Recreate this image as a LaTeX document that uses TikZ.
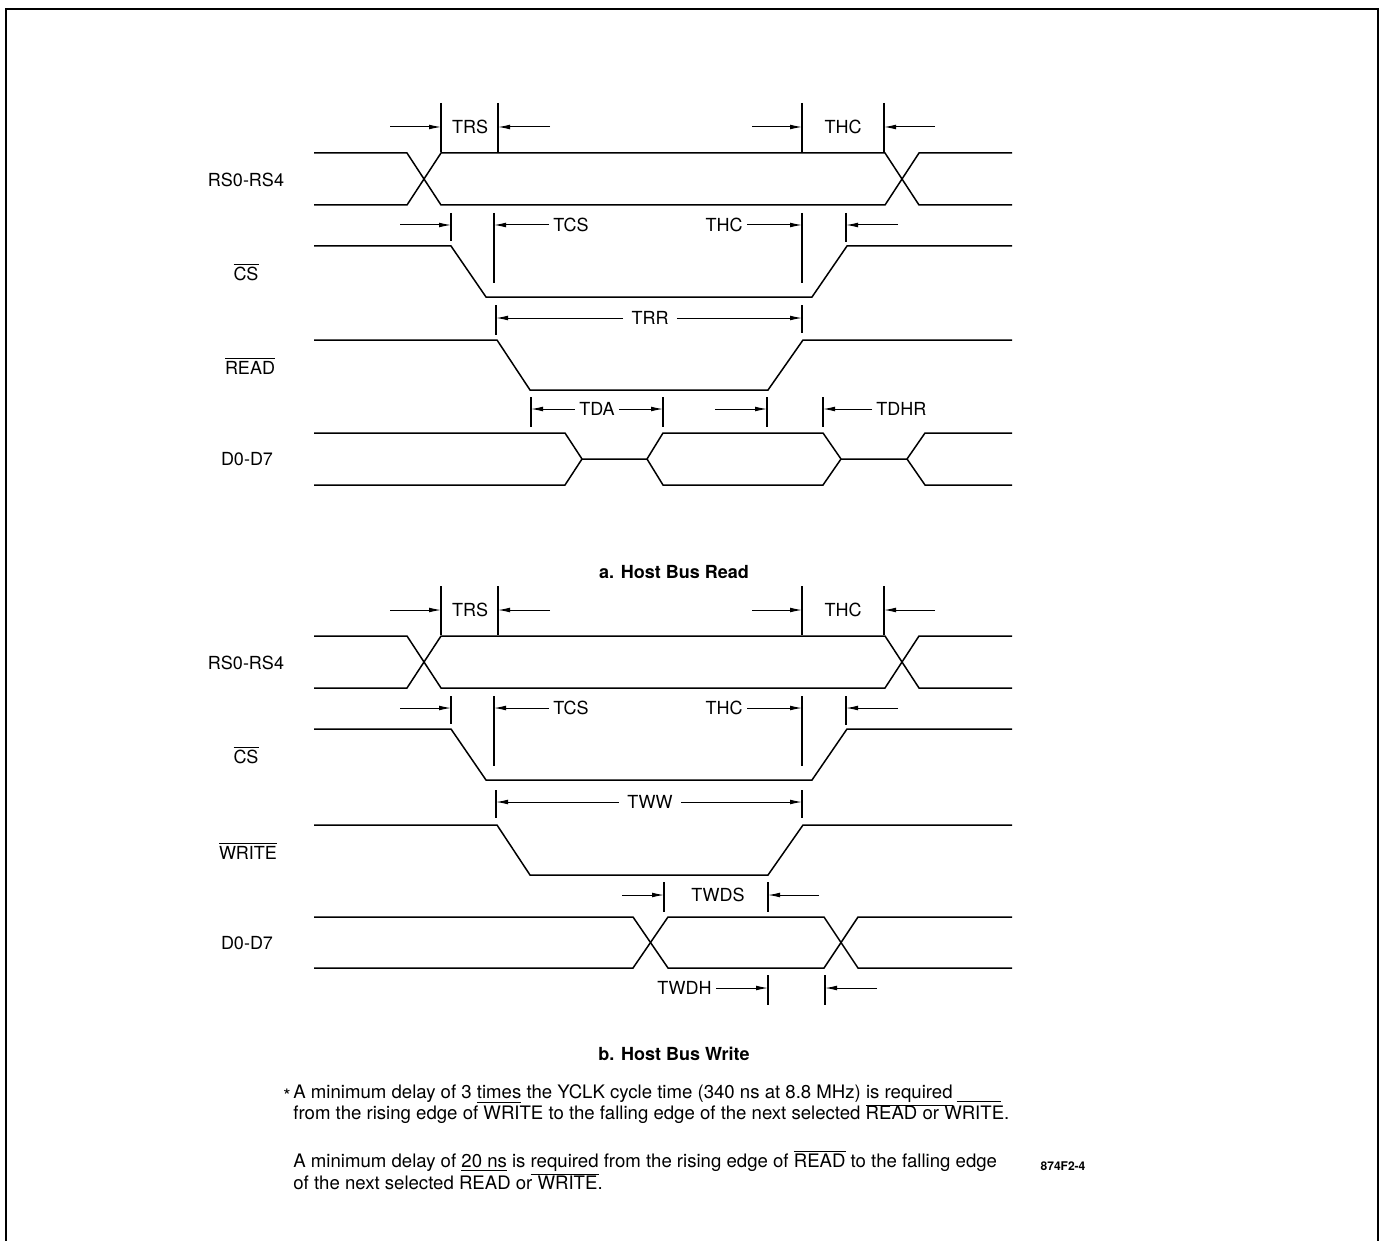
\documentclass[tikz,border=0pt]{standalone}
\usepackage{fontspec}
\setmainfont{TeX Gyre Heros}
\usepackage{tikz}
\usetikzlibrary{arrows.meta}

\begin{document}
\begin{tikzpicture}[x=0.5pt,y=-0.5pt,>={Latex[length=6pt,width=2.4pt]}]
  \tikzstyle{sig}=[line width=0.75pt,line join=miter]
  \tikzstyle{tick}=[line width=0.6pt]
  \tikzstyle{dim}=[->,line width=0.5pt]
  \tikzstyle{lbl}=[font=\fontsize{9}{10}\selectfont,inner sep=2pt]
  \tikzstyle{signame}=[font=\fontsize{9}{10}\selectfont,inner sep=0pt]
  \tikzstyle{caption}=[font=\fontsize{9}{11}\bfseries\selectfont]
  \tikzstyle{note}=[font=\fontsize{9.3}{11}\selectfont,anchor=west,inner sep=0pt]

  \useasboundingbox (0,0) rectangle (1386,1241);
  % frame
  \draw[line width=1.4pt] (6,1241) -- (6,9) -- (1378,9) -- (1378,1241);

  % RS0-RS4 and CS rows, same in both panels
  \foreach \oy/\p in {0/a,483/b}{
  \begin{scope}[shift={(0,\oy)}]
    \node[signame] (rs\p) at (246,180) {RS0-RS4};
    \draw[sig] (314,153) -- (407,153) -- (441,205) -- (885,205) -- (919,153) -- (1012,153);
    \draw[sig] (314,205) -- (407,205) -- (441,153) -- (885,153) -- (919,205) -- (1012,205);
    \draw[tick] (441,103) -- (441,152) (498,103) -- (498,152) (802,103) -- (802,152) (884,103) -- (884,152);
    \node[lbl] (trs\p) at (470,127) {TRS};
    \node[lbl] (thc\p) at (843,127) {THC};
    \draw[dim] (390,127) -- (441,127);
    \draw[dim] (550,127) -- (498,127);
    \draw[dim] (752,127) -- (802,127);
    \draw[dim] (935,127) -- (884,127);

    \node[signame] (cs\p) at (246,272) {$\overline{\mbox{CS}}$};
    \draw[sig] (314,246) -- (451,246) -- (486,297) -- (812,297) -- (847,246) -- (1012,246);
    \draw[tick] (451,213) -- (451,241) (494,213) -- (494,283) (802,213) -- (802,283) (846,213) -- (846,242);
    \node[lbl,anchor=west] (tcs\p) at (549,225) {TCS};
    \node[lbl,anchor=east] (thcs\p) at (747,225) {THC};
    \draw[dim] (400,225) -- (451,225);
    \draw[dim] (tcs\p.west) -- (494,225);
    \draw[dim] (thcs\p.east) -- (802,225);
    \draw[dim] (898,225) -- (846,225);
  \end{scope}}

  % a: READ
  \node[signame] (read) at (250,366) {$\overline{\mbox{READ}}$};
  \draw[sig] (314,340) -- (497,340) -- (530,390) -- (768,390) -- (803,340) -- (1012,340);
  \draw[tick] (496,305) -- (496,335) (802,305) -- (802,333);
  \node[lbl,inner sep=4pt] (trr) at (650,318) {TRR};
  \draw[dim] (trr.west) -- (496,318);
  \draw[dim] (trr.east) -- (802,318);

  % a: D0-D7
  \node[signame] (dra) at (247,459) {D0-D7};
  \draw[sig] (314,433) -- (565,433) -- (582,459) -- (647,459) -- (663,433) -- (823,433) -- (841,459) -- (907,459) -- (925,433) -- (1012,433);
  \draw[sig] (314,485) -- (565,485) -- (582,459) (647,459) -- (663,485) -- (823,485) -- (841,459) (907,459) -- (925,485) -- (1012,485);
  \draw[tick] (531,397) -- (531,427) (663,397) -- (663,427) (767,397) -- (767,427) (823,397) -- (823,427);
  \node[lbl] (tda) at (597,409) {TDA};
  \draw[dim] (tda.west) -- (531,409);
  \draw[dim] (tda.east) -- (663,409);
  \draw[dim] (715,409) -- (767,409);
  \node[lbl,anchor=west] (tdhr) at (872,409) {TDHR};
  \draw[dim] (tdhr.west) -- (823,409);

  \node[caption] (capa) at (674,572) {a. Host Bus Read};

  % b: WRITE
  \node[signame] (write) at (248,851) {$\overline{\mbox{WRITE}}$};
  \draw[sig] (314,825) -- (497,825) -- (530,875) -- (768,875) -- (803,825) -- (1012,825);
  \draw[tick] (496,790) -- (496,818) (802,790) -- (802,818);
  \node[lbl,inner sep=4pt] (tww) at (650,802) {TWW};
  \draw[dim] (tww.west) -- (496,802);
  \draw[dim] (tww.east) -- (802,802);

  % b: D0-D7
  \node[signame] (drb) at (247,943) {D0-D7};
  \draw[sig] (314,917) -- (633,917) -- (668,968) -- (824,968) -- (858,917) -- (1012,917);
  \draw[sig] (314,968) -- (633,968) -- (668,917) -- (824,917) -- (858,968) -- (1012,968);
  \draw[tick] (664,882) -- (664,912) (768,882) -- (768,912) (768,975) -- (768,1005) (825,975) -- (825,1005);
  \node[lbl] (twds) at (718,895) {TWDS};
  \draw[dim] (622,895) -- (664,895);
  \draw[dim] (819,895) -- (768,895);
  \node[lbl,anchor=east] (twdh) at (716,988) {TWDH};
  \draw[dim] (twdh.east) -- (768,988);
  \draw[dim] (877,988) -- (825,988);

  \node[caption] (capb) at (674,1054) {b. Host Bus Write};

  % notes
  \node[note] (star) at (283,1096) {*};
  \node[note] (n1) at (293,1096) {A minimum delay of 3 \underline{times} the YCLK cycle time (340 ns at 8.8 MHz) \underline{is required}\hspace{2pt}\underline{\hspace{22pt}}};
  \node[note] (n2) at (293,1115) {from the rising edge of WRITE to the falling edge of the next selected READ or WRITE.};
  \node[note] (n3) at (293,1163) {A minimum delay of \underline{20 ns} is \underline{required} from the rising edge of $\overline{\mbox{READ}}$ to the falling edge};
  \node[note] (n4) at (293,1183) {of the next selected READ or WRITE.};
  \node[font=\fontsize{6}{7}\bfseries\selectfont] (fig) at (1063,1166) {874F2-4};
\end{tikzpicture}
\end{document}
